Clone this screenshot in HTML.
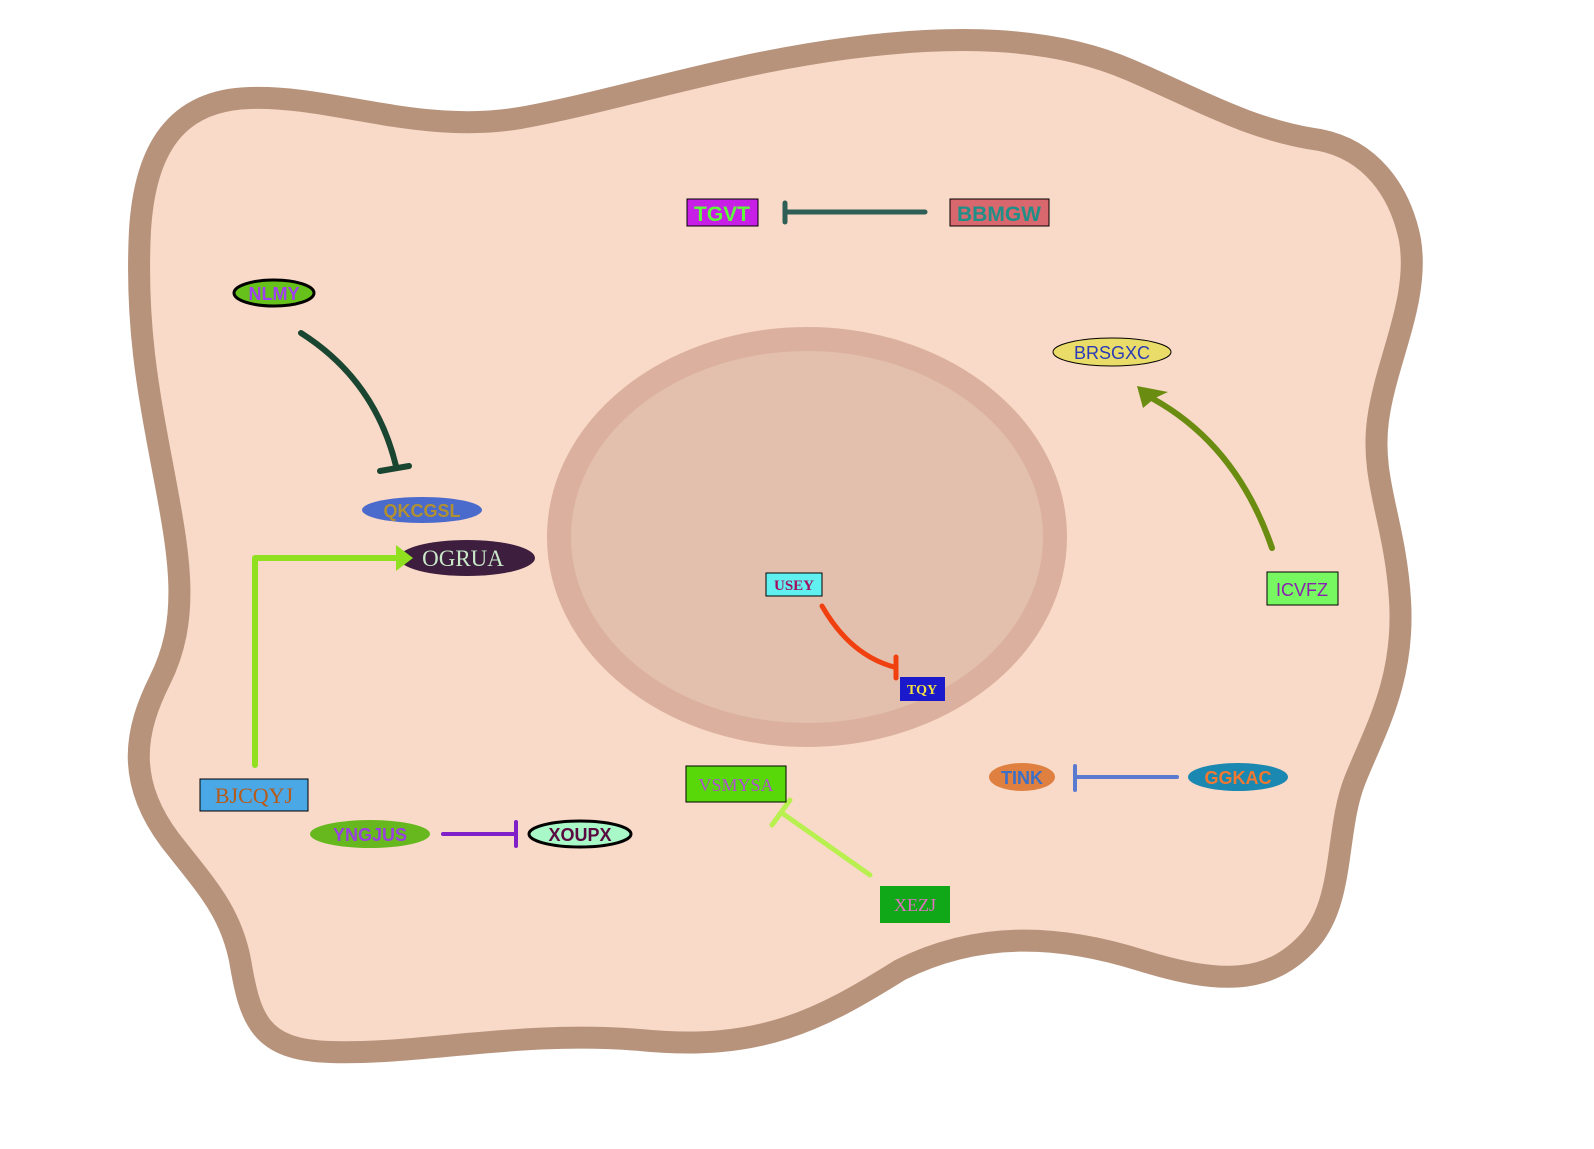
<!DOCTYPE html>
<html><head><meta charset="utf-8"><style>
html,body{margin:0;padding:0;background:#fff;width:1594px;height:1149px;overflow:hidden}
svg{display:block}
.b{font-family:"Liberation Sans",sans-serif;font-weight:bold}
.n{font-family:"Liberation Sans",sans-serif}
.s{font-family:"Liberation Serif",serif}
</style></head><body>
<svg width="1594" height="1149" viewBox="0 0 1594 1149">
<path fill="#f9d9c7" stroke="#b8937c" stroke-width="22" d="M140,230 C135,330 150,400 165,480 C180,560 190,620 160,680 C135,730 125,780 170,840 C205,885 230,910 240,960 C250,1020 260,1050 330,1052 C420,1055 520,1030 640,1040 C760,1052 820,1020 900,970 C980,930 1060,935 1140,960 C1220,985 1270,985 1310,940 C1345,900 1335,830 1355,780 C1375,730 1405,680 1400,600 C1395,520 1370,480 1378,420 C1386,360 1420,300 1410,240 C1400,190 1370,150 1320,140 C1250,130 1200,100 1130,70 C1050,35 950,35 850,48 C720,65 620,100 520,118 C420,135 330,95 250,98 C175,100 145,150 140,230 Z"/>
<ellipse cx="807" cy="537" rx="248" ry="198" fill="#e3bfad" stroke="#dbb09e" stroke-width="24"/>

<!-- TGVT / BBMGW -->
<line x1="925" y1="212" x2="786" y2="212" stroke="#2e5e55" stroke-width="5" stroke-linecap="round"/>
<line x1="785" y1="203" x2="785" y2="222" stroke="#2e5e55" stroke-width="5" stroke-linecap="round"/>
<rect x="687" y="199" width="71" height="27" fill="#c81fe6" stroke="#000" stroke-width="1"/>
<text class="b" x="722" y="221" text-anchor="middle" font-size="21" fill="#5dfc3a">TGVT</text>
<rect x="950" y="199" width="99" height="27" fill="#d9686e" stroke="#000" stroke-width="1"/>
<text class="b" x="999" y="221" text-anchor="middle" font-size="21" fill="#1f8f88">BBMGW</text>

<!-- NLMY -> QKCGSL -->
<path d="M301,333 Q375,380 396,466" fill="none" stroke="#1a4531" stroke-width="6" stroke-linecap="round"/>
<line x1="380" y1="471" x2="409" y2="466" stroke="#1a4531" stroke-width="6" stroke-linecap="round"/>
<ellipse cx="274" cy="293" rx="40" ry="13" fill="#66c21a" stroke="#000" stroke-width="3"/>
<text class="b" x="274" y="300" text-anchor="middle" font-size="18" fill="#a040f0">NLMY</text>
<ellipse cx="422" cy="510" rx="60" ry="13" fill="#4a6acc"/>
<text class="b" x="422" y="517" text-anchor="middle" font-size="18" fill="#b09030">QKCGSL</text>

<!-- BJCQYJ -> OGRUA -->
<polyline points="255,765 255,558 400,558" fill="none" stroke="#90e020" stroke-width="6" stroke-linecap="round" stroke-linejoin="round"/>
<ellipse cx="467" cy="558" rx="68" ry="18" fill="#3d1e3e"/>
<polygon points="396,545 413,558 396,571" fill="#90e020"/>
<text class="s" x="463" y="566" text-anchor="middle" font-size="23" fill="#c8e8c8">OGRUA</text>
<rect x="200" y="779" width="108" height="32" fill="#4aa8e6" stroke="#000" stroke-width="1"/>
<text class="s" x="254" y="803" text-anchor="middle" font-size="22" fill="#b85a18">BJCQYJ</text>

<!-- YNGJUS -| XOUPX -->
<line x1="443" y1="834" x2="514" y2="834" stroke="#8020c8" stroke-width="4" stroke-linecap="round"/>
<line x1="516" y1="822" x2="516" y2="846" stroke="#8020c8" stroke-width="4" stroke-linecap="round"/>
<ellipse cx="370" cy="834" rx="60" ry="14" fill="#66b81e"/>
<text class="b" x="370" y="841" text-anchor="middle" font-size="18" fill="#9a40e0">YNGJUS</text>
<ellipse cx="580" cy="834" rx="51" ry="13" fill="#a8f8c8" stroke="#000" stroke-width="3"/>
<text class="b" x="580" y="841" text-anchor="middle" font-size="18" fill="#5a0a40">XOUPX</text>

<!-- USEY -| TQY -->
<path d="M822,606 Q850,655 894,667" fill="none" stroke="#f04010" stroke-width="5" stroke-linecap="round"/>
<line x1="896" y1="657" x2="896" y2="678" stroke="#f04010" stroke-width="5" stroke-linecap="round"/>
<rect x="766" y="573" width="56" height="23" fill="#60f0f0" stroke="#000" stroke-width="1"/>
<text class="s" x="794" y="590" text-anchor="middle" font-size="15" font-weight="bold" fill="#a01060">USEY</text>
<rect x="900" y="677" width="45" height="24" fill="#1a1acc"/>
<text class="s" x="922" y="694" text-anchor="middle" font-size="14" font-weight="bold" fill="#f0e040">TQY</text>

<!-- XEZJ -| VSMYSA -->
<line x1="870" y1="875" x2="782" y2="813" stroke="#b8f050" stroke-width="5" stroke-linecap="round"/>
<line x1="772" y1="825" x2="790" y2="800" stroke="#b8f050" stroke-width="5" stroke-linecap="round"/>
<rect x="686" y="766" width="100" height="36" fill="#58d808" stroke="#000" stroke-width="1"/>
<text class="s" x="736" y="791" text-anchor="middle" font-size="18" fill="#b050d0">VSMYSA</text>
<rect x="880" y="886" width="70" height="37" fill="#10a818"/>
<text class="s" x="915" y="911" text-anchor="middle" font-size="18" fill="#e070c0">XEZJ</text>

<!-- GGKAC -| TINK -->
<line x1="1177" y1="777" x2="1076" y2="777" stroke="#5a7ad0" stroke-width="4" stroke-linecap="round"/>
<line x1="1075" y1="766" x2="1075" y2="790" stroke="#5a7ad0" stroke-width="4" stroke-linecap="round"/>
<ellipse cx="1022" cy="777" rx="33" ry="14" fill="#e08040"/>
<text class="b" x="1022" y="784" text-anchor="middle" font-size="18" fill="#3a70c8">TINK</text>
<ellipse cx="1238" cy="777" rx="50" ry="14" fill="#1a88b0"/>
<text class="b" x="1238" y="784" text-anchor="middle" font-size="18" fill="#f07830">GGKAC</text>

<!-- ICVFZ -> BRSGXC -->
<path d="M1272,548 Q1235,440 1144,394" fill="none" stroke="#6a8c10" stroke-width="6" stroke-linecap="round"/>
<polygon points="1137,386 1168,392 1155,398 1143,408" fill="#6a8c10"/>
<ellipse cx="1112" cy="352" rx="59" ry="14" fill="#eadc68" stroke="#000" stroke-width="1"/>
<text class="n" x="1112" y="359" text-anchor="middle" font-size="18" fill="#2a3ab8">BRSGXC</text>
<rect x="1267" y="572" width="71" height="33" fill="#78f860" stroke="#000" stroke-width="1"/>
<text class="n" x="1302" y="596" text-anchor="middle" font-size="18" fill="#8a20b0">ICVFZ</text>
</svg>
</body></html>
